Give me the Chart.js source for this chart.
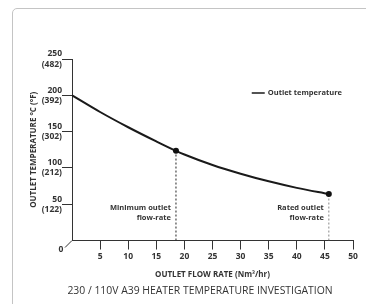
<!DOCTYPE html>
<html>
<head>
<meta charset="utf-8">
<script src="https://cdn.jsdelivr.net/npm/chart.js@4"></script>
<style>
  html, body { margin: 0; padding: 0; background: #fff; }
  #wrap { position: relative; width: 366px; height: 304px; overflow: hidden; }
  #frame { position: absolute; left: 12px; top: 8px; width: 400px; height: 340px;
           border: 1px solid #c4c4c4; border-radius: 5px; }
  canvas { position: absolute; left: 0; top: 0; }
</style>
</head>
<body>
<div id="wrap">
  <div id="frame"></div>
  <canvas id="chart" width="366" height="304"></canvas>
</div>
<script>
// flow rate (Nm3/hr) vs outlet temperature (C)
var flow = [0, 5, 10, 15, 18.5, 20, 25, 30, 35, 40, 45.7];
var temp = [200, 177, 156, 136.5, 123.5, 118.5, 104, 92, 81.5, 72.5, 64];
var dots = [0, 0, 0, 0, 3, 0, 0, 0, 0, 0, 3];

// marked flow rates with their labels
var markFlow = [18.5, 45.7];
var markTemp = [123.5, 64];
var markColor = ['#222', '#888'];
var markText = [['Minimum outlet', 'flow-rate'], ['Rated outlet', 'flow-rate']];

// y tick labels in fahrenheit
var tickC = [50, 100, 150, 200, 250];
var tickF = ['(122)', '(212)', '(302)', '(392)', '(482)'];

var ink = '#333';
var tickFont = { family: '"Open Sans"', size: 8.5, weight: 'bold' };
var smallFont = 'bold 7.5px "Open Sans"';

var pts = flow.map(function (f, i) { return { x: f, y: temp[i] }; });

var datasets = [{
  label: 'Outlet temperature',
  data: pts,
  borderColor: '#1a1a1a',
  backgroundColor: '#111',
  borderWidth: 2,
  pointRadius: dots,
  pointHoverRadius: dots,
  pointBorderWidth: 0,
  cubicInterpolationMode: 'monotone'
}];
markFlow.forEach(function (f, i) {
  datasets.push({
    label: 'mark' + i,
    data: [{ x: f, y: 0 }, { x: f, y: markTemp[i] }],
    borderColor: markColor[i],
    borderWidth: 1,
    borderDash: [2, 2],
    pointRadius: 0
  });
});

var notes = {
  id: 'notes',
  afterDraw: function (chart) {
    var ctx = chart.ctx, x = chart.scales.x, y = chart.scales.y, area = chart.chartArea;
    var ox = x.getPixelForValue(0), oy = y.getPixelForValue(0);
    ctx.save();
    ctx.fillStyle = ink;
    ctx.font = smallFont;
    ctx.textAlign = 'right';
    ctx.textBaseline = 'middle';
    markFlow.forEach(function (f, i) {
      var px = x.getPixelForValue(f) - 5;
      markText[i].forEach(function (t, j) {
        ctx.fillText(t, px, oy - 33 + j * 10);
      });
    });

    // legend: short line + series name, top right inside the plot
    var ds = chart.data.datasets[0];
    var lx = area.right - 11, ly = area.top + 34;
    var tw = ctx.measureText(ds.label).width;
    ctx.fillText(ds.label, lx, ly);
    ctx.strokeStyle = ds.borderColor;
    ctx.lineWidth = 1.5;
    ctx.beginPath();
    ctx.moveTo(lx - tw - 3, ly);
    ctx.lineTo(lx - tw - 16, ly);
    ctx.stroke();

    // skewed corner at the origin
    ctx.strokeStyle = ink;
    ctx.lineWidth = 1;
    ctx.beginPath();
    ctx.moveTo(ox, oy);
    ctx.lineTo(ox - 7, oy + 7);
    ctx.stroke();
    ctx.font = 'bold 8.5px "Open Sans"';
    ctx.textAlign = 'center';
    ctx.fillText('0', ox - 11, oy + 9);
    ctx.restore();
  }
};

function hideZero(c) { return c.tick && c.tick.value === 0 ? 'rgba(0,0,0,0)' : ink; }

new Chart(document.getElementById('chart'), {
  type: 'line',
  data: { datasets: datasets },
  plugins: [notes],
  options: {
    responsive: false,
    animation: false,
    events: [],
    layout: { padding: { left: 34, right: 0, top: 59, bottom: 0 } },
    plugins: {
      tooltip: { enabled: false },
      legend: { display: false },
      title: {
        display: true,
        position: 'bottom',
        text: '230 / 110V A39 HEATER TEMPERATURE INVESTIGATION',
        color: ink,
        font: { family: '"Open Sans"', size: 10.4, weight: 'normal' },
        padding: { top: 4, bottom: 7 }
      }
    },
    scales: {
      x: {
        type: 'linear',
        min: 0,
        max: 50,
        afterFit: function (s) { s.height = 40; },
        ticks: {
          stepSize: 5,
          autoSkip: false,
          maxRotation: 0,
          padding: 2,
          color: ink,
          font: tickFont,
          callback: function (v) { return v === 0 ? '' : v; }
        },
        grid: { drawOnChartArea: false, tickLength: 9, tickColor: hideZero },
        border: { color: ink, width: 1 },
        title: {
          display: true,
          text: 'OUTLET FLOW RATE (Nm³/hr)',
          color: ink,
          font: { family: '"Open Sans"', size: 8, weight: 'bold' },
          padding: { top: 0, bottom: 1 }
        }
      },
      y: {
        min: 0,
        max: 250,
        afterFit: function (s) { s.width = 38; },
        ticks: {
          stepSize: 50,
          padding: 0,
          color: ink,
          font: tickFont,
          callback: function (v) {
            var i = tickC.indexOf(v);
            return i < 0 ? '' : [String(v), tickF[i]];
          }
        },
        grid: { drawOnChartArea: false, tickLength: 10, tickColor: hideZero },
        border: { color: ink, width: 1 },
        title: {
          display: true,
          text: 'OUTLET TEMPERATURE °C (°F)',
          color: ink,
          font: { family: '"Open Sans"', size: 8, weight: 'bold' },
          padding: { top: -5, bottom: 0 }
        }
      },
      r: {
        type: 'linear',
        position: 'right',
        afterFit: function (s) { s.width = 13; },
        ticks: { display: false },
        grid: { display: false },
        border: { display: false }
      }
    }
  }
});
</script>
</body>
</html>
